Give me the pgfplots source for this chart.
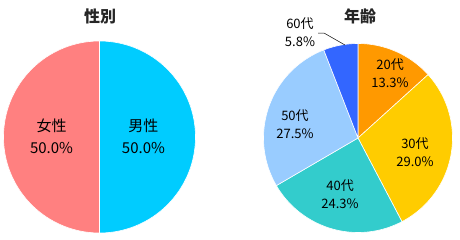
\documentclass[border=0pt]{standalone}
\usepackage{pgfplots}
\pgfplotsset{compat=1.18}
\usepackage{fontspec}
\setmainfont{Noto Sans CJK JP}
\definecolor{male}{HTML}{00CCFF}
\definecolor{female}{HTML}{FF8080}
\definecolor{a20}{HTML}{FF9900}
\definecolor{a30}{HTML}{FFCC00}
\definecolor{a40}{HTML}{33CCCC}
\definecolor{a50}{HTML}{99CCFF}
\definecolor{a60}{HTML}{3366FF}
\pgfplotsset{
  pie/.style={width=#1, height=#1, scale only axis, xmin=-1, xmax=1, ymin=-1, ymax=1, hide axis, clip=false},
  wedge/.style={draw=white, line width=0.6pt, fill=#1, variable=\t, samples=91},
}
\begin{document}
\begin{tikzpicture}
\useasboundingbox (0,0) rectangle (460bp,240bp);
% 性別: 男性 50.0, 女性 50.0 (clockwise from 12 o'clock)
\begin{axis}[pie=192bp, at={(99.5bp,103bp)}, anchor=center]
\addplot[wedge=male, domain=90:-90] ({cos(\t)},{sin(\t)}) -- (axis cs:0,0) -- cycle;
\addplot[wedge=female, domain=-90:-270] ({cos(\t)},{sin(\t)}) -- (axis cs:0,0) -- cycle;
\node[align=center, font=\fontsize{15bp}{22bp}\selectfont] at (axis cs:0.458,0.01) {男性\\50.0\%};
\node[align=center, font=\fontsize{15bp}{22bp}\selectfont] at (axis cs:-0.50,0.01) {女性\\50.0\%};
\end{axis}
% 年齢: 20代 13.3, 30代 29.0, 40代 24.3, 50代 27.5, 60代 5.8
\begin{axis}[pie=189bp, at={(358bp,102bp)}, anchor=center]
\addplot[wedge=a20, domain=90:42.12, samples=25] ({cos(\t)},{sin(\t)}) -- (axis cs:0,0) -- cycle;
\addplot[wedge=a30, domain=42.12:-62.28, samples=53] ({cos(\t)},{sin(\t)}) -- (axis cs:0,0) -- cycle;
\addplot[wedge=a40, domain=-62.28:-149.76, samples=45] ({cos(\t)},{sin(\t)}) -- (axis cs:0,0) -- cycle;
\addplot[wedge=a50, domain=-149.76:-248.76, samples=50] ({cos(\t)},{sin(\t)}) -- (axis cs:0,0) -- cycle;
\addplot[wedge=a60, domain=-248.76:-270, samples=12] ({cos(\t)},{sin(\t)}) -- (axis cs:0,0) -- cycle;
\draw[black, line width=0.5pt] (axis cs:-0.423,1.111) -- (axis cs:-0.360,1.111) -- (axis cs:-0.138,0.984);
\begin{scope}[every node/.style={align=center, font=\fontsize{13bp}{18bp}\selectfont}]
\node at (axis cs:0.339,0.683) {20代\\13.3\%};
\node at (axis cs:0.603,-0.148) {30代\\29.0\%};
\node at (axis cs:-0.19,-0.593) {40代\\24.3\%};
\node at (axis cs:-0.667,0.143) {50代\\27.5\%};
\node at (axis cs:-0.614,1.122) {60代\\5.8\%};
\end{scope}
\end{axis}
\node[font=\bfseries\fontsize{16bp}{18bp}\selectfont, text=black!85] at (100bp,224bp) {性別};
\node[font=\bfseries\fontsize{16bp}{18bp}\selectfont, text=black!85] at (360bp,224bp) {年齢};
\end{tikzpicture}
\end{document}
